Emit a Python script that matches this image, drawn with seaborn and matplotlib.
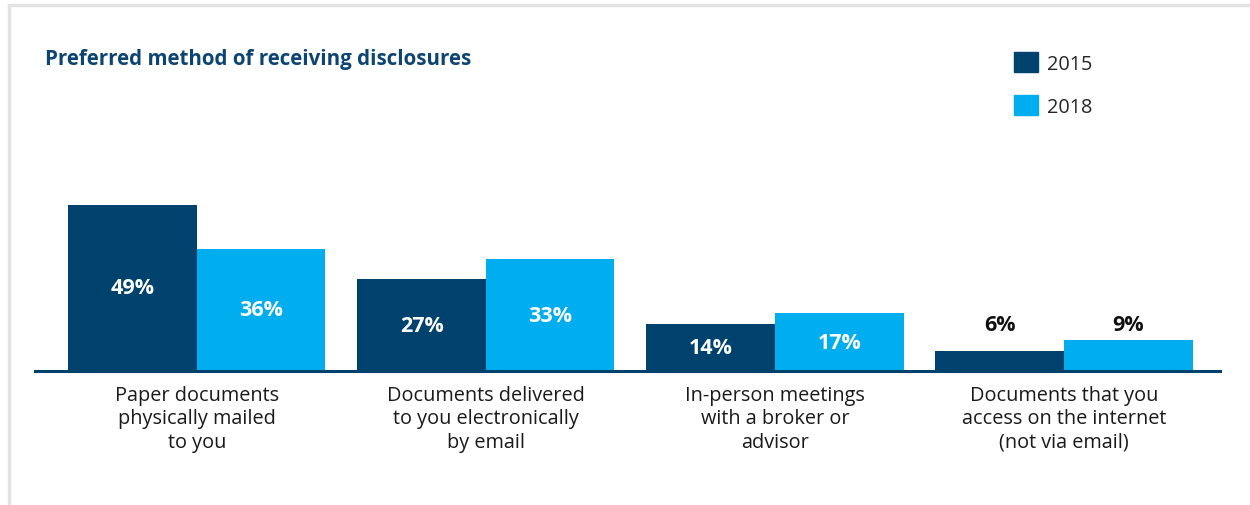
import pandas as pd
import numpy as np
import matplotlib.pyplot as plt
import seaborn as sns
from matplotlib.lines import Line2D
from matplotlib.patches import Patch

# Data
categories = [
    "Paper documents\nphysically mailed\nto you",
    "Documents delivered\nto you electronically\nby email",
    "In-person meetings\nwith a broker or\nadvisor",
    "Documents that you\naccess on the internet\n(not via email)",
]
years = ["2015", "2018"]
values_2015 = [49, 27, 14, 6]
values_2018 = [36, 33, 17, 9]

dark = "#00426e"
light = "#00adef"
title_color = "#0d4572"

df = pd.DataFrame({
    "category": categories * 2,
    "year": [years[0]] * 4 + [years[1]] * 4,
    "value": values_2015 + values_2018,
})

sns.set_style("white")
plt.rcParams["font.family"] = ["Open Sans", "DejaVu Sans"]

fig = plt.figure(figsize=(12.5, 5.06), dpi=100)
ax = fig.add_axes([0.028, 0.2648, 0.948, 0.3485])

sns.barplot(data=df, x="category", y="value", hue="year",
            palette=[dark, light], width=0.89, saturation=1,
            linewidth=0, ax=ax, legend=False)

ax.set_xlim(-0.56, 3.54)
ax.set_ylim(0, 52)
ax.set_xlabel("")
ax.set_ylabel("")
ax.set_yticks([])
for s in ["top", "right", "left"]:
    ax.spines[s].set_visible(False)
ax.spines["bottom"].set_color(dark)
ax.spines["bottom"].set_linewidth(2.2)
ax.tick_params(axis="x", length=0, pad=10, labelsize=14.3, labelcolor="#1a1a1a")
for lab in ax.get_xticklabels():
    lab.set_linespacing(1.22)

# value labels: inside the bars, or above the pair when bars are short
for i in range(len(categories)):
    pair = [values_2015[i], values_2018[i]]
    for j, container in enumerate(ax.containers):
        bar = container[i]
        x = bar.get_x() + bar.get_width() / 2
        v = pair[j]
        if max(pair) >= 12:
            ax.text(x, v / 2, f"{v}%", ha="center", va="center",
                    color="white", fontsize=15.5, fontweight="bold")
        else:
            ax.text(x, max(pair) + 4.7, f"{v}%", ha="center", va="center",
                    color="#111111", fontsize=15.5, fontweight="bold")

fig.text(0.036, 0.882, "Preferred method of receiving disclosures",
         color=title_color, fontsize=14.8, fontweight="bold", va="center")

handles = [Patch(facecolor=dark, edgecolor=dark), Patch(facecolor=light, edgecolor=light)]
fig.legend(handles, years, loc="upper left", bbox_to_anchor=(0.8115, 0.895),
           frameon=False, fontsize=14.3, handlelength=1.2, handleheight=1.2,
           handletextpad=0.45, labelspacing=1.05, borderaxespad=0, borderpad=0)

# light grey frame on the top and left edges
fig.add_artist(Line2D([0.0068, 1.0], [0.988, 0.988], color="#e3e3e3", lw=2.5))
fig.add_artist(Line2D([0.0068, 0.0068], [0.0, 0.988], color="#e3e3e3", lw=2.5))

fig.savefig("out.png", dpi=100)
